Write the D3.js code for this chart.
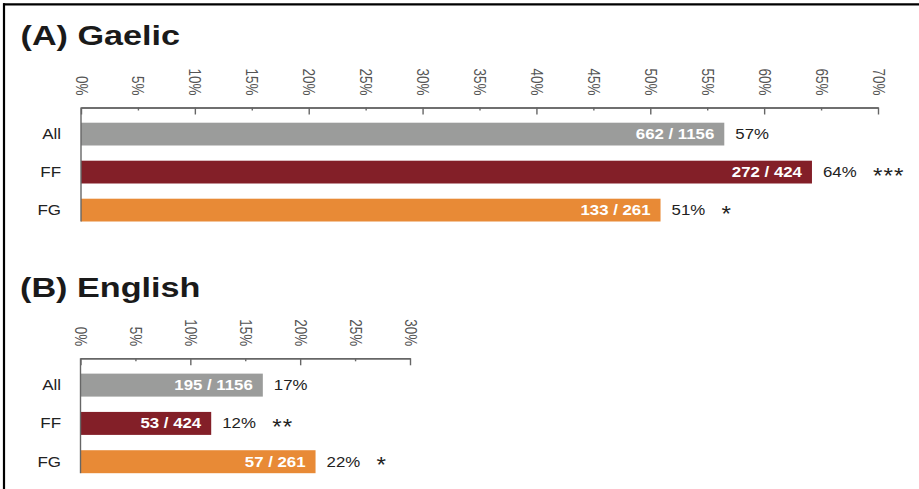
<!DOCTYPE html>
<html><head><meta charset="utf-8">
<script src="https://cdn.jsdelivr.net/npm/d3@7"></script>
<style>html,body{margin:0;padding:0;background:#fff;}svg{display:block;}</style>
</head><body>
<script>
const categories = ["All", "FF", "FG"];
const colors = ["#9b9c9b", "#831f28", "#e88a36"];

const gaelicValues = [56.5, 64.2, 50.9];
const gaelicCounts = ["662 / 1156", "272 / 424", "133 / 261"];
const gaelicPct = ["57%", "64%", "51%"];
const gaelicSig = ["", "***", "*"];
const gaelicTicks = [0, 5, 10, 15, 20, 25, 30, 35, 40, 45, 50, 55, 60, 65, 70];

const englishValues = [16.6, 11.9, 21.4];
const englishCounts = ["195 / 1156", "53 / 424", "57 / 261"];
const englishPct = ["17%", "12%", "22%"];
const englishSig = ["", "**", "*"];
const englishTicks = [0, 5, 10, 15, 20, 25, 30];

const W = 919, H = 489;
const SX = 1.2;
const svg = d3.select("body").append("svg").attr("width", W).attr("height", H);
svg.append("rect").attr("width", W).attr("height", H).attr("fill", "#fff");

// frame (top and left edges visible)
svg.append("line").attr("x1", 3).attr("x2", W).attr("y1", 4.3).attr("y2", 4.3).attr("stroke", "#000").attr("stroke-width", 2.2);
svg.append("line").attr("x1", 4).attr("x2", 4).attr("y1", 3.2).attr("y2", H).attr("stroke", "#000").attr("stroke-width", 2.2);

const font = "'Liberation Sans', Arial, Helvetica, sans-serif";

function txt(g, x, y, s, opts) {
  const t = g.append("text")
    .attr("transform", `translate(${x},${y}) scale(${opts.sx || SX},1)` + (opts.rotate ? ` rotate(${opts.rotate})` : ""))
    .attr("font-family", font)
    .attr("font-size", opts.size)
    .attr("font-weight", opts.weight || "normal")
    .attr("fill", opts.fill || "#222")
    .attr("text-anchor", opts.anchor || "start")
    .attr("dominant-baseline", opts.baseline || "alphabetic")
    .text(s);
  if (opts.ls) t.attr("letter-spacing", opts.ls);
  return t;
}

function panel(cfg) {
  const g = svg.append("g");
  txt(g, cfg.titleX, cfg.titleY, cfg.title, {size: 28.5, weight: "bold", fill: "#1a1a1a"});

  const x = d3.scaleLinear().domain([0, cfg.max]).range([cfg.x0, cfg.x1]);
  const y = d3.scaleBand().domain(categories).range([cfg.axisY, cfg.axisY + cfg.step * 3.4]).padding(0.4);

  // bars
  g.selectAll("rect.bar").data(categories).join("rect")
    .attr("x", x(0)).attr("y", d => y(d))
    .attr("width", (d, i) => x(cfg.values[i]) - x(0))
    .attr("height", y.bandwidth())
    .attr("fill", (d, i) => colors[i]);

  // x axis: minor and major ticks
  const minor = cfg.ticks.filter(t => t % 10 !== 0);
  const major = cfg.ticks.filter(t => t % 10 === 0);
  const axMinor = g.append("g").attr("transform", `translate(0,${cfg.axisY})`)
    .call(d3.axisBottom(x).tickValues(minor).tickSize(3).tickSizeOuter(0).tickFormat(""));
  const axMajor = g.append("g").attr("transform", `translate(0,${cfg.axisY})`)
    .call(d3.axisBottom(x).tickValues(major).tickSize(7).tickSizeOuter(0).tickFormat(""));
  [axMinor, axMajor].forEach(a => {
    a.selectAll("path,line").attr("stroke", "#666").attr("stroke-width", 1.4);
  });

  // tick labels rotated
  cfg.ticks.forEach(t => {
    txt(g, x(t), cfg.axisY - 12, t + "%", {size: 13.5, fill: "#555", anchor: "end", baseline: "central", rotate: 90});
  });

  // y axis line
  g.append("g").attr("transform", `translate(${x(0)},0)`)
    .call(d3.axisLeft(y).tickSize(0).tickFormat(""))
    .call(a => a.select("path").attr("d", `M0,${cfg.axisY}V${y(categories[2]) + y.bandwidth()}`).attr("stroke", "#666").attr("stroke-width", 1.4));

  categories.forEach((c, i) => {
    const cy = y(c) + y.bandwidth() / 2;
    const xe = x(cfg.values[i]);
    txt(g, 61, cy, c, {size: 14.5, anchor: "end", baseline: "central", fill: "#222", sx: 1.17});
    txt(g, xe - 10, cy, cfg.counts[i], {size: 14.5, weight: "bold", fill: "#fff", anchor: "end", baseline: "central", sx: 1.16});
    txt(g, xe + 11, cy, cfg.pct[i], {size: 14.5, anchor: "start", baseline: "central", fill: "#222", sx: 1.16});
    if (cfg.sig[i]) txt(g, xe + 61, cy + 3, cfg.sig[i], {size: 22, anchor: "start", baseline: "central", fill: "#222", ls: 1, sx: 1.1});
  });
}

panel({title: "(A) Gaelic", titleX: 20.5, titleY: 45, max: 70, x0: 81, x1: 878, axisY: 107.5, step: 38,
  values: gaelicValues, counts: gaelicCounts, pct: gaelicPct, sig: gaelicSig, ticks: gaelicTicks});
panel({title: "(B) English", titleX: 20, titleY: 296.5, max: 30, x0: 80.5, x1: 410, axisY: 358.3, step: 38.3,
  values: englishValues, counts: englishCounts, pct: englishPct, sig: englishSig, ticks: englishTicks});
</script>
</body></html>
